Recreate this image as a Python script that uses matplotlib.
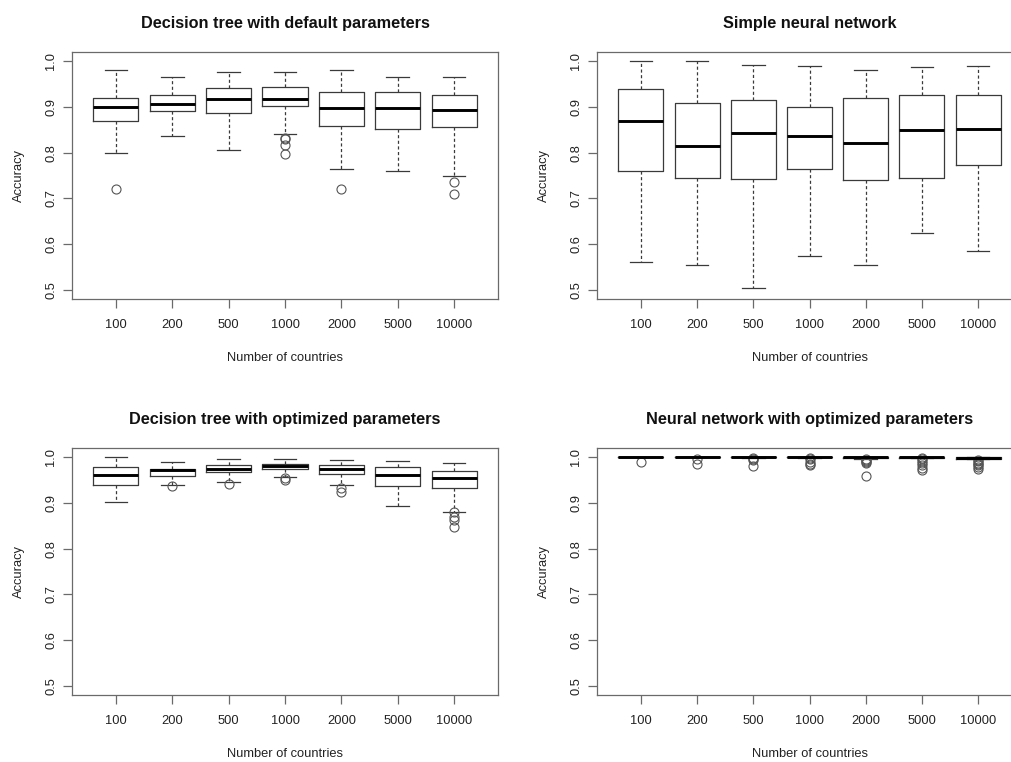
import matplotlib as mpl
mpl.use('Agg')
import matplotlib.pyplot as plt

mpl.rcParams.update({'font.family': ['Liberation Sans', 'DejaVu Sans'], 'font.size': 9.3})

countries = ["100", "200", "500", "1000", "2000", "5000", "10000"]
yticks = [0.5, 0.6, 0.7, 0.8, 0.9, 1.0]

# five-number summaries: whislo, q1, med, q3, whishi
dt_default_lo = [0.800, 0.836, 0.806, 0.840, 0.765, 0.760, 0.750]
dt_default_q1 = [0.870, 0.891, 0.886, 0.902, 0.859, 0.851, 0.855]
dt_default_med = [0.900, 0.907, 0.918, 0.918, 0.897, 0.898, 0.894]
dt_default_q3 = [0.919, 0.927, 0.942, 0.944, 0.932, 0.932, 0.925]
dt_default_hi = [0.980, 0.965, 0.976, 0.976, 0.980, 0.965, 0.965]
dt_default_out = [[0.721], [], [], [0.832, 0.830, 0.816, 0.798], [0.721], [], [0.735, 0.709]]

nn_simple_lo = [0.560, 0.554, 0.503, 0.573, 0.554, 0.625, 0.585]
nn_simple_q1 = [0.760, 0.745, 0.742, 0.765, 0.740, 0.745, 0.774]
nn_simple_med = [0.870, 0.815, 0.842, 0.836, 0.821, 0.849, 0.852]
nn_simple_q3 = [0.939, 0.908, 0.915, 0.900, 0.919, 0.927, 0.925]
nn_simple_hi = [1.000, 1.000, 0.992, 0.990, 0.980, 0.987, 0.990]
nn_simple_out = [[], [], [], [], [], [], []]

dt_opt_lo = [0.901, 0.940, 0.946, 0.957, 0.940, 0.894, 0.881]
dt_opt_q1 = [0.940, 0.959, 0.967, 0.974, 0.964, 0.938, 0.932]
dt_opt_med = [0.960, 0.971, 0.975, 0.980, 0.975, 0.962, 0.954]
dt_opt_q3 = [0.979, 0.975, 0.982, 0.986, 0.982, 0.978, 0.970]
dt_opt_hi = [1.000, 0.990, 0.996, 0.997, 0.994, 0.992, 0.988]
dt_opt_out = [[], [0.936], [0.941], [0.955, 0.951], [0.933, 0.924], [], [0.880, 0.870, 0.863, 0.848]]

nn_opt_lo = [1.000, 1.000, 0.999, 0.999, 0.997, 0.998, 0.995]
nn_opt_q1 = [1.000, 1.000, 1.000, 1.000, 0.999, 0.999, 0.997]
nn_opt_med = [1.000, 1.000, 1.000, 1.000, 1.000, 1.000, 0.999]
nn_opt_q3 = [1.000, 1.000, 1.000, 1.000, 1.000, 1.000, 1.000]
nn_opt_hi = [1.000, 1.000, 1.000, 1.000, 1.000, 1.000, 1.000]
nn_opt_out = [[0.990], [0.996, 0.984], [0.998, 0.995, 0.993, 0.980],
              [0.999, 0.995, 0.990, 0.986, 0.983],
              [0.997, 0.993, 0.991, 0.989, 0.987, 0.958],
              [0.998, 0.995, 0.991, 0.987, 0.982, 0.977, 0.972],
              [0.994, 0.991, 0.988, 0.985, 0.982, 0.978, 0.975]]

panels = [
    ("Decision tree with default parameters", dt_default_lo, dt_default_q1, dt_default_med, dt_default_q3, dt_default_hi, dt_default_out),
    ("Simple neural network", nn_simple_lo, nn_simple_q1, nn_simple_med, nn_simple_q3, nn_simple_hi, nn_simple_out),
    ("Decision tree with optimized parameters", dt_opt_lo, dt_opt_q1, dt_opt_med, dt_opt_q3, dt_opt_hi, dt_opt_out),
    ("Neural network with optimized parameters", nn_opt_lo, nn_opt_q1, nn_opt_med, nn_opt_q3, nn_opt_hi, nn_opt_out),
]

W, H = 1011, 762
fig = plt.figure(figsize=(W / 100, H / 100), dpi=100)
# axes boxes in pixels: left, top, right, bottom
boxes = [(72, 52, 498, 299), (597, 52, 1022, 299), (72, 448, 498, 695), (597, 448, 1022, 695)]

line_col = "#3a3a3a"
frame_col = "#6a6a6a"

for (title, lo, q1, med, q3, hi, out), (l, t, r, b) in zip(panels, boxes):
    ax = fig.add_axes([l / W, 1 - b / H, (r - l) / W, (b - t) / H])
    stats = []
    for i in range(len(countries)):
        stats.append({"whislo": lo[i], "q1": q1[i], "med": med[i], "q3": q3[i],
                      "whishi": hi[i], "fliers": out[i], "label": countries[i]})
    ax.bxp(stats, positions=range(1, 8), widths=0.8, capwidths=0.4,
           boxprops=dict(color=line_col, linewidth=0.9),
           medianprops=dict(color="black", linewidth=2.1),
           whiskerprops=dict(color=line_col, linewidth=0.9, linestyle=(0, (2.5, 2))),
           capprops=dict(color=line_col, linewidth=0.9),
           flierprops=dict(marker="o", markersize=6.5, markerfacecolor="none",
                           markeredgecolor="#555555", markeredgewidth=0.8))
    ax.set_xlim(0.22, 7.78)
    ax.set_ylim(0.48, 1.02)
    ax.set_yticks(yticks)
    ax.set_yticklabels([f"{v:.1f}" for v in yticks], rotation=90, va="center")
    ax.tick_params(colors=frame_col, labelcolor="#222222", length=6.5, width=0.9)
    ax.tick_params(axis="x", pad=8)
    ax.tick_params(axis="y", pad=4)
    for s in ax.spines.values():
        s.set_color(frame_col)
        s.set_linewidth(0.9)
    ax.set_title(title, fontsize=11.7, fontweight="bold", pad=17, color="#111111")
    ax.set_xlabel("Number of countries", labelpad=15, color="#222222")
    ax.set_ylabel("Accuracy", labelpad=15, color="#222222")

fig.savefig("out.png", dpi=100)
